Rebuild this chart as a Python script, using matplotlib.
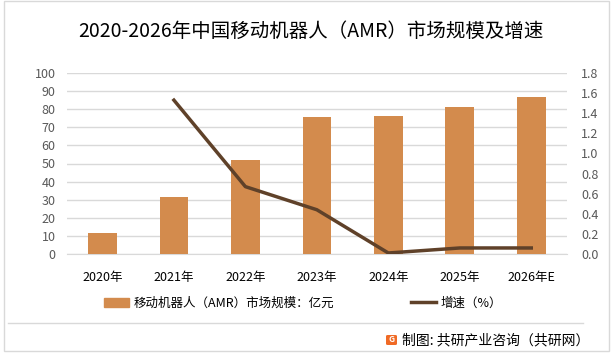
import matplotlib
matplotlib.use("Agg")
import matplotlib.pyplot as plt
from matplotlib.patches import Rectangle, FancyBboxPatch
from matplotlib.lines import Line2D

plt.rcParams['font.family'] = ['Noto Sans CJK SC', 'DejaVu Sans']

years = ["2020年", "2021年", "2022年", "2023年", "2024年", "2025年", "2026年E"]
market_size = [11.7, 31.3, 52.2, 75.6, 76.1, 81.1, 86.7]
growth = [None, 1.53, 0.67, 0.44, 0.01, 0.06, 0.06]
left_ticks = [0, 10, 20, 30, 40, 50, 60, 70, 80, 90, 100]
right_ticks = [0.0, 0.2, 0.4, 0.6, 0.8, 1.0, 1.2, 1.4, 1.6, 1.8]

title = "2020-2026年中国移动机器人（AMR）市场规模及增速"
bar_label = "移动机器人（AMR）市场规模：亿元"
line_label = "增速（%）"
footer = "制图: 共研产业咨询（共研网）"

bar_color = "#D38B4D"
line_color = "#5F4129"
tick_color = "#595959"

W, H = 614, 357
fig = plt.figure(figsize=(W / 100, H / 100), dpi=100)
fig.patch.set_facecolor("white")

ax = fig.add_axes([66.7 / W, 1 - 254 / H, (567 - 66.7) / W, (254 - 73) / H])
ax2 = ax.twinx()

x = list(range(len(years)))
ax.bar(x, market_size, width=0.4, color=bar_color, zorder=3)
ax.set_xlim(-0.5, len(years) - 0.5)
ax.set_ylim(0, 100)
ax.set_yticks(left_ticks)
ax.set_yticklabels([str(t) for t in left_ticks])
ax.grid(axis='y', color="#D9D9D9", linewidth=1, zorder=0)
ax.set_axisbelow(True)
ax.set_xticks(x)
ax.set_xticklabels(years)
ax.tick_params(axis='x', length=0, pad=12, labelsize=9, labelcolor="black")
ax.tick_params(axis='y', length=0, pad=8, labelsize=9, labelcolor=tick_color)
for s in ax.spines.values():
    s.set_visible(False)
ax.spines['bottom'].set_visible(True)
ax.spines['bottom'].set_color("#D9D9D9")

gx = [i for i, g in zip(x, growth) if g is not None]
gy = [g for g in growth if g is not None]
ax2.plot(gx, gy, color=line_color, linewidth=2.5, zorder=4)
ax2.set_ylim(0, 1.8)
ax2.set_yticks(right_ticks)
ax2.set_yticklabels([f"{t:.1f}" for t in right_ticks])
ax2.tick_params(axis='y', length=0, pad=10, labelsize=9, labelcolor=tick_color)
for s in ax2.spines.values():
    s.set_visible(False)

fig.text(311 / W, 1 - 31 / H, title, ha='center', va='center', fontsize=14, color="black")

handles = [Rectangle((0, 0), 1, 1, color=bar_color),
           Line2D([0], [0], color=line_color, linewidth=2.5)]
fig.legend(handles, [bar_label, line_label], loc='center', ncol=2,
           bbox_to_anchor=(303 / W, 1 - 303 / H), frameon=False, fontsize=9,
           handlelength=2.0, columnspacing=6.2, handletextpad=0.3)

fig.add_artist(Line2D([8 / W, 583 / W], [1 - 322.5 / H, 1 - 322.5 / H],
                      color="#D9D9D9", linewidth=1, transform=fig.transFigure))
fig.add_artist(Rectangle((4 / W, 1 - 351 / H), 605 / W, 350 / H, fill=False,
                         edgecolor="#D9D9D9", linewidth=1, transform=fig.transFigure))

fig.add_artist(FancyBboxPatch((386 / W, 1 - 345 / H), 11 / W, 10 / H,
                              boxstyle="round,pad=0,rounding_size=0.003",
                              facecolor="#F06A25", edgecolor="none", transform=fig.transFigure))
fig.text(391.5 / W, 1 - 340 / H, "G", ha='center', va='center', fontsize=6,
         color="white", fontweight='bold')
fig.text(402 / W, 1 - 340 / H, footer, ha='left', va='center', fontsize=10, color="black")

fig.savefig("out.png", dpi=100)
